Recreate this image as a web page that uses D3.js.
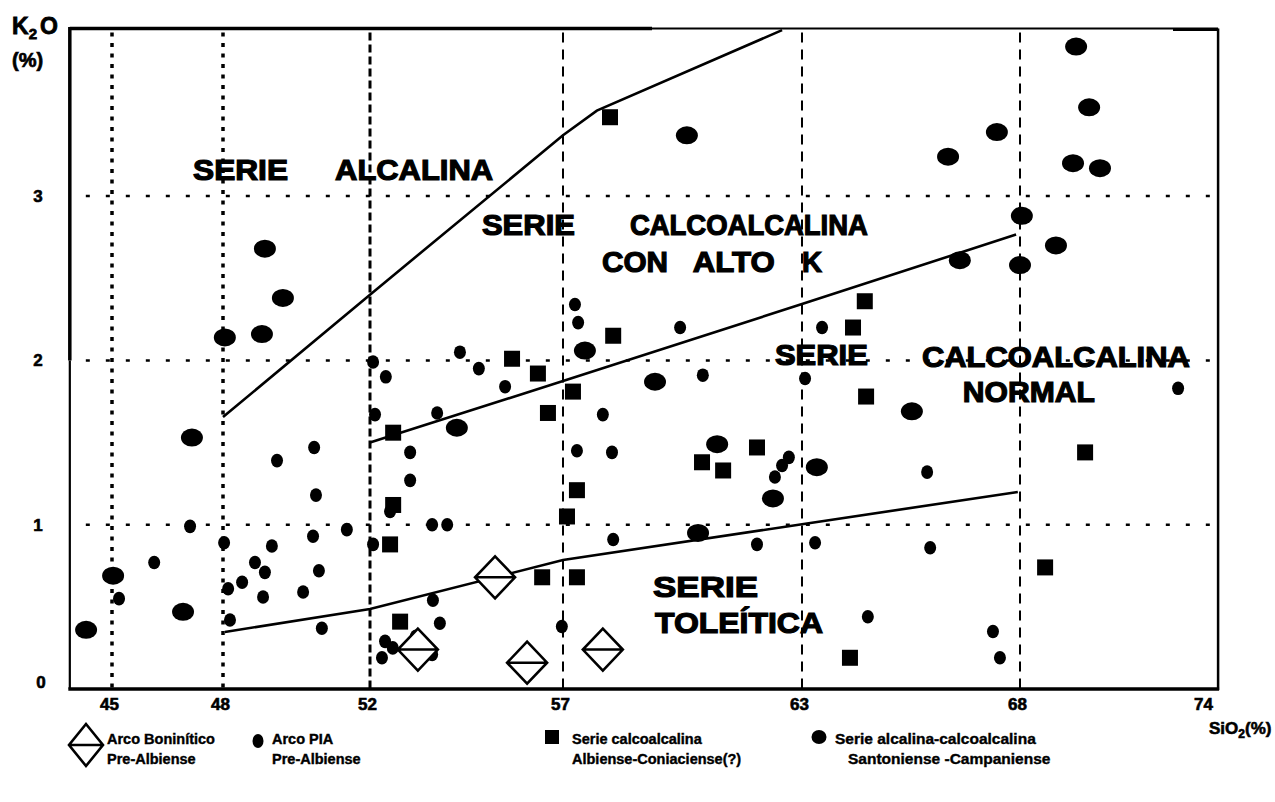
<!DOCTYPE html>
<html><head><meta charset="utf-8">
<script src="https://cdn.jsdelivr.net/npm/d3@7"></script>
<style>body{margin:0;background:#fff} svg{display:block}</style>
</head><body>
<svg id="chart" width="1275" height="802"></svg>
<script>
// ---------- data ----------
const xTicks = [45, 48, 52, 57, 63, 68, 74];
const yTicks = [0, 1, 2, 3];
const xMin = 43.86, xMax = 74.39, yMax = 4.02;

// Arco Boninítico Pre-Albiense (open diamonds)
const boniniticos = [[53.24,0.24],[55.24,0.68],[56.07,0.16],[58.00,0.24]];

// Arco PIA Pre-Albiense (small dots)
const arcoPIA = [[45.19,0.55],[46.14,0.77],[47.11,0.99],[48.03,0.89],[48.14,0.61],[48.19,0.42],[48.52,0.65],
 [48.87,0.77],[49.14,0.71],[49.33,0.87],[49.09,0.56],[49.47,1.39],[50.48,1.47],[50.53,1.18],[50.45,0.93],
 [50.61,0.72],[50.18,0.59],[50.69,0.37],[51.37,0.97],[52.08,1.99],[52.41,1.90],[52.13,1.67],[53.04,1.44],
 [53.04,1.27],[52.08,0.88],[52.52,1.08],[53.74,1.68],[53.61,1.00],[54.00,1.00],[53.63,0.54],[53.81,0.40],
 [52.39,0.29],[52.31,0.19],[52.59,0.25],[53.19,0.32],[53.61,0.21],[54.33,2.05],[54.82,1.95],[55.50,1.84],
 [57.30,2.34],[57.38,2.23],[59.94,2.20],[58.00,1.67],[57.35,1.45],[58.23,1.44],[58.26,0.91],[56.97,0.38],
 [60.51,1.91],[61.87,0.88],[63.30,0.89],[62.67,1.41],[62.50,1.36],[62.32,1.29],[63.07,1.89],[63.46,2.20],
 [64.51,0.44],[65.87,1.32],[65.94,0.86],[67.38,0.35],[67.54,0.19],[73.10,1.83]];

// Serie calcoalcalina Albiense-Coniaciense(?) (squares)
const calcoalcalina = [[52.60,1.56],[52.60,1.12],[52.52,0.88],[52.78,0.41],[55.68,2.01],[56.35,1.92],
 [56.61,1.68],[57.25,1.81],[57.35,1.21],[57.10,1.05],[56.46,0.68],[57.35,0.68],[58.26,2.15],[58.18,3.48],
 [60.49,1.38],[61.02,1.33],[61.87,1.47],[64.44,2.36],[64.17,2.20],[64.47,1.78],[64.10,0.19],[68.81,0.74],
 [70.10,1.44]];

// Serie alcalina-calcoalcalina Santoniense-Campaniense (large dots)
const alcalinaCalco = [[44.30,0.36],[45.03,0.69],[46.92,0.47],[47.16,1.53],[48.05,2.14],[49.06,2.16],
 [49.14,2.68],[49.63,2.38],[54.25,1.59],[57.55,2.06],[59.31,1.87],[60.39,0.95],[60.87,1.49],[62.27,1.16],
 [63.34,1.35],[65.52,1.69],[60.11,3.37],[66.35,3.24],[66.62,2.61],[67.47,3.39],[68.06,2.88],[68.00,2.58],
 [69.16,2.70],[69.71,3.20],[70.58,3.17],[70.23,3.54],[69.81,3.91]];

// boundary lines
const limitAlcalina = [[48,1.655],[52,2.40],[57,3.37],[57.85,3.52],[62.5,4.01]];
const limitAltoK = [[52,1.50],[57,1.874],[63,2.343],[67.91,2.766]];
const limitToleitica = [[48.05,0.347],[52,0.487],[57,0.785],[63,1.003],[67.95,1.199]];

// field labels (text, SiO2 start, K2O baseline, width px)
const fieldLabels = [
 ["SERIE", 47.19, 3.10, 95], ["ALCALINA", 51.05, 3.10, 158],
 ["SERIE", 54.90, 2.763, 93], ["CALCOALCALINA", 58.68, 2.763, 238],
 ["CON", 57.98, 2.538, 66], ["ALTO", 60.26, 2.538, 82], ["K", 63.0, 2.538, 20],
 ["SERIE", 62.32, 1.972, 93], ["CALCOALCALINA", 65.75, 1.96, 268],
 ["NORMAL", 66.69, 1.747, 132],
 ["SERIE", 59.26, 0.56, 105], ["TOLEÍTICA", 59.31, 0.341, 168]
];

const legendLabels = [
 ["Arco Boninítico", "Pre-Albiense"],
 ["Arco PIA", "Pre-Albiense"],
 ["Serie calcoalcalina", "Albiense-Coniaciense(?)"],
 ["Serie alcalina-calcoalcalina", "Santoniense -Campaniense"]
];

// ---------- drawing ----------
const svg = d3.select("#chart");
const FONT = "'Liberation Sans', Arial, sans-serif";

const x = d3.scaleLinear().domain(xTicks).range([112, 223, 370, 563, 802, 1020, 1206]);
const y = d3.scaleLinear().domain([0, yMax]).range([689, 28.5]);
const X0 = x(xMin), X1 = x(xMax), Y0 = y(0), Y1 = y(yMax);

const grid = svg.append("g");
const vStyles = {45:["4,6.5",3.5],48:["4,6.5",3.5],52:["8,4",3],57:["10,7",2],63:["10,7",2],68:["10,7",2]};
xTicks.filter(d => d < 74).forEach(d => {
  grid.append("line").attr("x1", x(d)).attr("x2", x(d)).attr("y1", Y1 + 4).attr("y2", Y0)
    .attr("stroke", "#000").attr("stroke-width", vStyles[d][1]).attr("stroke-dasharray", vStyles[d][0]);
});
yTicks.filter(d => d > 0).forEach(d => {
  grid.append("line").attr("x1", X0 + 16).attr("x2", X1 - 6).attr("y1", y(d)).attr("y2", y(d))
    .attr("stroke", "#000").attr("stroke-width", 2.5).attr("stroke-dasharray", "4,16");
});

// boundary lines
const line = d3.line().x(d => x(d[0])).y(d => y(d[1]));
[limitAlcalina, limitAltoK, limitToleitica].forEach(L => {
  svg.append("path").attr("d", line(L)).attr("fill", "none").attr("stroke", "#000").attr("stroke-width", 2.6);
});

// field labels
svg.append("g").selectAll("text").data(fieldLabels).join("text")
  .attr("x", d => x(d[1])).attr("y", d => y(d[2]))
  .attr("textLength", d => d[3]).attr("lengthAdjust", "spacingAndGlyphs")
  .attr("font-family", FONT).attr("font-weight", "bold").attr("font-size", 29)
  .attr("stroke", "#000").attr("stroke-width", 1.2)
  .text(d => d[0]);

// symbols
const diamondPath = (w, h) => `M0,${-h/2}L${w/2},0L0,${h/2}L${-w/2},0Z M${-w/2},0H${w/2}`;
function drawDiamond(g, w, h) {
  g.append("path").attr("d", diamondPath(w, h)).attr("fill", "#fff").attr("stroke", "#000").attr("stroke-width", 2.6);
}

const pts = svg.append("g");
pts.selectAll(".pia").data(arcoPIA).join("ellipse").attr("class", "pia")
  .attr("cx", d => x(d[0])).attr("cy", d => y(d[1])).attr("rx", 6).attr("ry", 6.8).attr("fill", "#000");
pts.selectAll(".alc").data(alcalinaCalco).join("ellipse").attr("class", "alc")
  .attr("cx", d => x(d[0])).attr("cy", d => y(d[1])).attr("rx", 11).attr("ry", 9).attr("fill", "#000");
pts.selectAll(".cal").data(calcoalcalina).join("rect").attr("class", "cal")
  .attr("x", d => x(d[0]) - 8).attr("y", d => y(d[1]) - 8).attr("width", 16).attr("height", 16).attr("fill", "#000");
boniniticos.forEach(d => {
  const g = pts.append("g").attr("transform", `translate(${x(d[0])},${y(d[1])})`);
  drawDiamond(g, 40, 42);
});

// frame
const frame = svg.append("g").attr("stroke", "#000");
frame.append("line").attr("x1", X0).attr("x2", 652).attr("y1", Y1).attr("y2", Y1).attr("stroke-width", 3.5);
frame.append("line").attr("x1", 652).attr("x2", X1).attr("y1", Y1).attr("y2", Y1).attr("stroke-width", 2);
frame.append("line").attr("x1", 1173).attr("x2", X1).attr("y1", Y1 + 1).attr("y2", Y1 + 1).attr("stroke-width", 3);
frame.append("line").attr("x1", X0).attr("x2", X0).attr("y1", Y1 - 1.5).attr("y2", y(2)).attr("stroke-width", 3.5);
frame.append("line").attr("x1", X0).attr("x2", X0).attr("y1", y(2)).attr("y2", Y0).attr("stroke-width", 2.2);
frame.append("line").attr("x1", X1).attr("x2", X1).attr("y1", Y1).attr("y2", Y0 + 1).attr("stroke-width", 2.5);
frame.append("line").attr("x1", X0 - 1.5).attr("x2", X1 + 1).attr("y1", Y0).attr("y2", Y0).attr("stroke-width", 3.5);

// axes (labels only)
const xAxis = svg.append("g").attr("transform", `translate(0,${Y0})`)
  .call(d3.axisBottom(x).tickValues(xTicks).tickFormat(d3.format("d")).tickSize(0).tickPadding(9));
xAxis.select(".domain").remove();
xAxis.selectAll("text").attr("dx", -3).attr("font-family", FONT).attr("font-weight", "bold").attr("font-size", 17)
  .attr("fill", "#000").attr("stroke", "#000").attr("stroke-width", 0.6);

const yAxis = svg.append("g").attr("transform", `translate(${X0},0)`)
  .call(d3.axisLeft(y).tickValues(yTicks).tickFormat(d3.format("d")).tickSize(0).tickPadding(27));
yAxis.select(".domain").remove();
yAxis.selectAll("text").attr("font-family", FONT).attr("font-weight", "bold").attr("font-size", 17)
  .attr("fill", "#000").attr("stroke", "#000").attr("stroke-width", 0.6);
yAxis.selectAll(".tick").filter(d => d === 0).select("text").attr("dy", "-0.1em").attr("dx", 3);

// axis titles
const kt = svg.append("text").attr("x", 12).attr("y", 34).attr("font-family", FONT).attr("font-weight", "bold").attr("font-size", 23)
  .attr("stroke", "#000").attr("stroke-width", 0.8);
kt.append("tspan").text("K");
kt.append("tspan").attr("font-size", 15).attr("dy", 5).text("2");
kt.append("tspan").attr("dy", -5).attr("dx", 3).text("O");
svg.append("text").attr("x", 12).attr("y", 67).attr("font-family", FONT).attr("font-weight", "bold").attr("font-size", 20)
  .attr("stroke", "#000").attr("stroke-width", 0.7).text("(%)");

const st = svg.append("text").attr("x", 1209).attr("y", 734).attr("font-family", FONT).attr("font-weight", "bold").attr("font-size", 17)
  .attr("stroke", "#000").attr("stroke-width", 0.6);
st.append("tspan").text("SiO");
st.append("tspan").attr("font-size", 12).attr("dy", 4).text("2");
st.append("tspan").attr("dy", -4).text("(%)");

// legend
const LF = 14.5;
const legX = [[86, 107], [258, 272], [552, 572], [819, 835]];
const leg = svg.append("g");
legendLabels.forEach((lab, i) => {
  const [sx, tx] = legX[i];
  const g = leg.append("g");
  if (i === 0) drawDiamond(g.append("g").attr("transform", `translate(${sx},745)`), 34, 42);
  if (i === 1) g.append("ellipse").attr("cx", sx).attr("cy", 741).attr("rx", 5.5).attr("ry", 7).attr("fill", "#000");
  if (i === 2) g.append("rect").attr("x", sx - 7).attr("y", 730).attr("width", 14).attr("height", 14).attr("fill", "#000");
  if (i === 3) g.append("ellipse").attr("cx", sx).attr("cy", 737).attr("rx", 7.5).attr("ry", 7).attr("fill", "#000");
  [lab[0], lab[1]].forEach((t, k) => {
    g.append("text").attr("x", (i === 3 && k === 1) ? tx + 13 : tx).attr("y", k ? 764 : 744)
      .attr("font-family", FONT).attr("font-weight", "bold").attr("font-size", (i === 3) ? 15.5 : LF)
      .attr("stroke", "#000").attr("stroke-width", 0.4).text(t);
  });
});
</script>
</body></html>
